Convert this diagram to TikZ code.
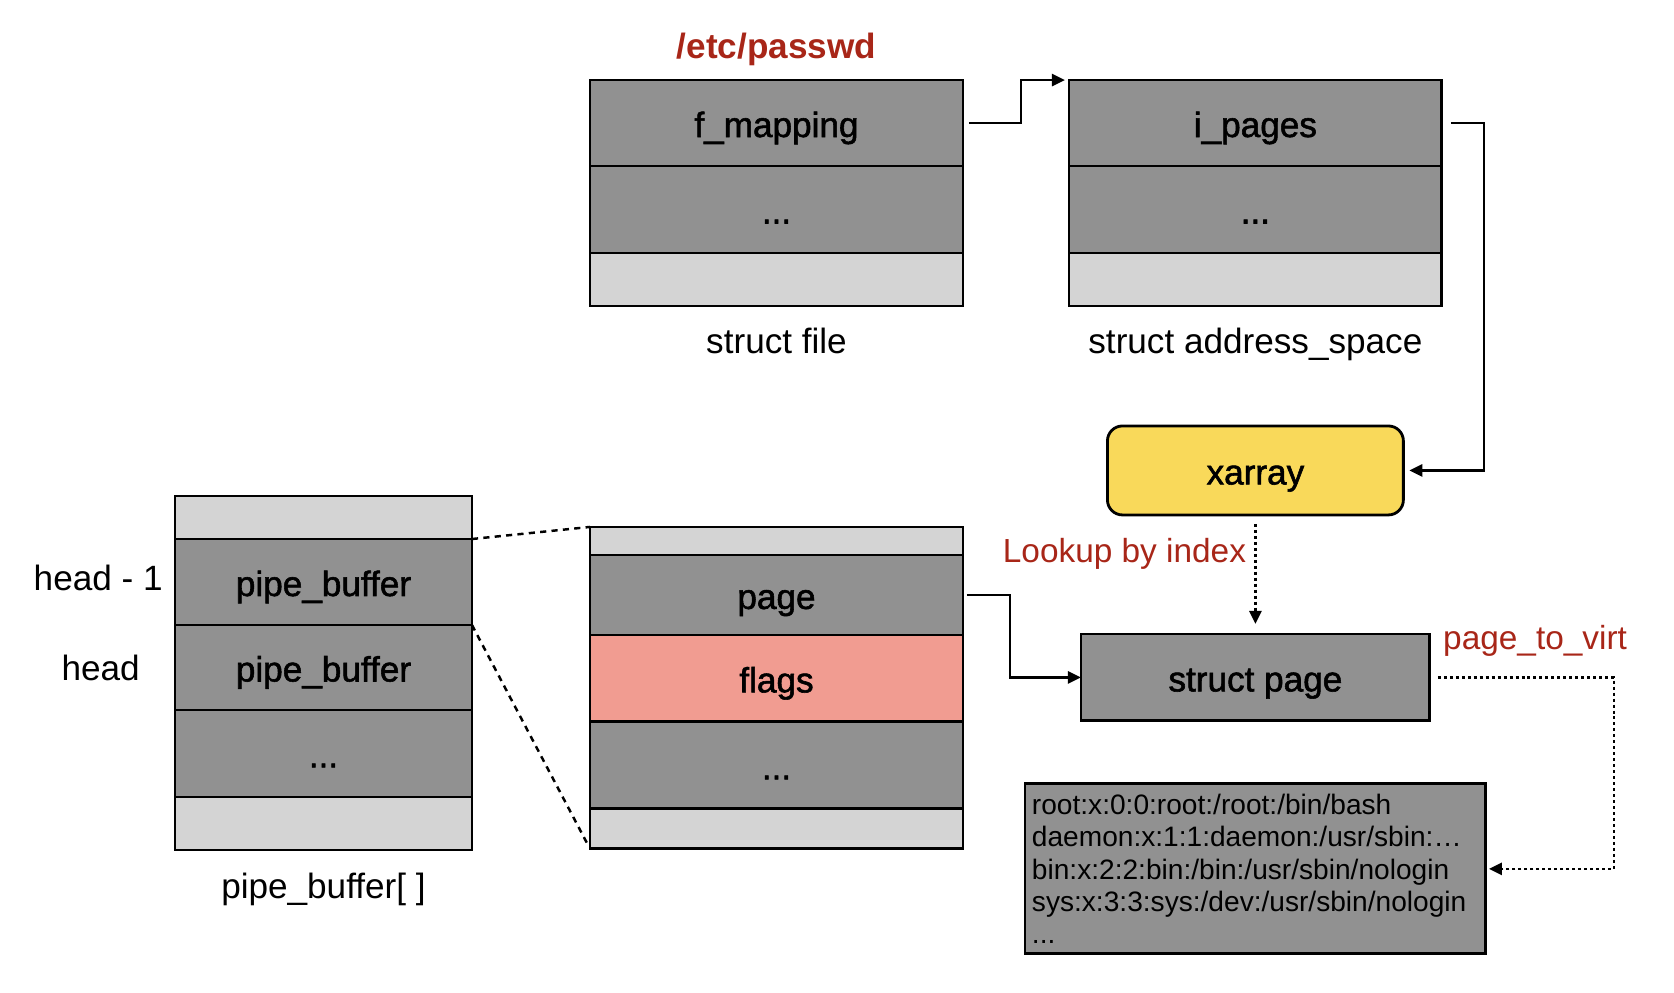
\documentclass[tikz,border=0pt]{standalone}
\usepackage{fontspec}
\setmainfont{Liberation Sans}
\newfontfamily\cellfont[BoldFont = {Liberation Sans}, BoldFeatures = {FakeBold = 1.6}]{Liberation Sans}
\usetikzlibrary{positioning, arrows.meta}

\definecolor{cellGray}{RGB}{145,145,145}
\definecolor{freeGray}{RGB}{212,212,212}
\definecolor{flagRed}{RGB}{241,156,145}
\definecolor{arrayYellow}{RGB}{249,217,90}
\definecolor{noteRed}{RGB}{168,38,24}

\tikzstyle{field} = [
    rectangle,
    draw,
    fill = cellGray,
    text centered,
    line width = 1.6pt,
    inner sep = 0pt,
    outer sep = 0pt,
    text height = 0.56cm,
    text depth = 0pt,
    minimum width = 7.46cm,
    font = \fontsize{20}{24}\selectfont\cellfont\bfseries
]
\tikzstyle{spare} = [
    field,
    fill = freeGray
]
\tikzstyle{flag} = [
    field,
    fill = flagRed
]
\tikzstyle{dump} = [
    rectangle,
    draw,
    fill = cellGray,
    line width = 1.6pt,
    inner sep = 0pt,
    outer sep = 0pt,
    align = left,
    font = \fontsize{16}{18.3}\selectfont
]
\tikzstyle{caption} = [
    inner sep = 0pt,
    font = \fontsize{20}{24}\selectfont
]
\tikzstyle{note} = [
    inner sep = 0pt,
    text = noteRed,
    font = \fontsize{19}{23}\selectfont
]
\tikzstyle{link} = [
    line width = 1.5pt,
    -{Triangle[length = 0.26cm, width = 0.24cm]}
]
\tikzstyle{lookup} = [
    link,
    dash pattern = on 1.7pt off 1.7pt
]
\tikzstyle{slice} = [
    line width = 1.4pt,
    dash pattern = on 3.5pt off 3pt
]

\begin{document}
\begin{tikzpicture}[x = 0.02cm, y = -0.02cm]

    \useasboundingbox (0, 0) rectangle (1674, 992);

    % struct file
    \node [field, minimum height = 1.72cm] (fileMapping) at (776.5, 123) {f\_mapping};
    \node [field, below = 0cm of fileMapping, minimum height = 1.74cm] (fileDots) {...};
    \node [spare, below = 0cm of fileDots, minimum height = 1.06cm] (fileFree) {};
    \node [note, font = \fontsize{20}{24}\selectfont\bfseries, above = 0.28cm of fileMapping] (filePath) {/etc/passwd};
    \node [caption, below = 0.44cm of fileFree] (fileName) {struct file};

    % struct address_space
    \node [field, right = 2.12cm of fileMapping, minimum height = 1.72cm] (addrPages) {i\_pages};
    \node [field, below = 0cm of addrPages, minimum height = 1.74cm] (addrDots) {...};
    \node [spare, below = 0cm of addrDots, minimum height = 1.06cm] (addrFree) {};
    \node [caption, below = 0.44cm of addrFree] (addrName) {struct address\_space};

    % xarray and struct page
    \node [field, fill = arrayYellow, rounded corners = 0.3cm, below = 2.4cm of addrFree,
           minimum width = 5.92cm, minimum height = 1.78cm] (xarray) {xarray};
    \node [note, below left = 0.46cm and 0.18cm of xarray.south] (lookupNote) {Lookup by index};
    \node [field, below = 2.38cm of xarray, minimum width = 6.98cm, minimum height = 1.74cm] (structPage) {struct page};
    \node [note, right = 0.26cm of structPage.north east, yshift = -0.14cm] (virtNote) {page\_to\_virt};

    % file data
    \node [dump, below = 1.26cm of structPage, minimum width = 9.22cm, minimum height = 3.4cm,
           text width = 8.94cm] (passwdData)
          {root:x:0:0:root:/root:/bin/bash\\
           daemon:x:1:1:daemon:/usr/sbin:…\\
           bin:x:2:2:bin:/bin:/usr/sbin/nologin\\
           sys:x:3:3:sys:/dev:/usr/sbin/nologin\\
           ...};

    % pipe_buffer
    \node [spare, below = 4.42cm of fileFree, minimum height = 0.54cm] (pgTop) {};
    \node [field, below = 0cm of pgTop, minimum height = 1.6cm] (pgPage) {page};
    \node [flag, below = 0cm of pgPage, minimum height = 1.74cm] (pgFlags) {flags};
    \node [field, below = 0cm of pgFlags, minimum height = 1.74cm] (pgDots) {...};
    \node [spare, below = 0cm of pgDots, minimum height = 0.8cm] (pgFree) {};

    % pipe_buffer[]
    \node [spare, minimum width = 5.94cm, minimum height = 0.86cm] (pipeTop) at (323.5, 517.5) {};
    \node [field, below = 0cm of pipeTop, minimum width = 5.94cm, minimum height = 1.72cm] (pipeHeadPrev) {pipe\_buffer};
    \node [field, below = 0cm of pipeHeadPrev, minimum width = 5.94cm, minimum height = 1.7cm] (pipeHead) {pipe\_buffer};
    \node [field, below = 0cm of pipeHead, minimum width = 5.94cm, minimum height = 1.74cm] (pipeDots) {...};
    \node [spare, below = 0cm of pipeDots, minimum width = 5.94cm, minimum height = 1.06cm] (pipeFree) {};
    \node [caption, left = 0.24cm of pipeHeadPrev, yshift = 0.08cm] (headPrevName) {head - 1};
    \node [caption, left = 0.7cm of pipeHead] (headName) {head};
    \node [caption, below = 0.46cm of pipeFree] (pipeName) {pipe\_buffer[ ]};

    % links
    \draw [link] ([xshift = 0.12cm]fileMapping.east) -- ++(1.04cm, 0) |- ([xshift = -0.08cm]addrPages.north west);
    \draw [link] ([xshift = 0.18cm]addrPages.east) -- ++(0.66cm, 0) |- ([xshift = 0.12cm]xarray.east);
    \draw [lookup] ([yshift = -0.18cm]xarray.south) -- ([yshift = 0.2cm]structPage.north);
    \draw [link] ([xshift = 0.08cm]pgPage.east) -- ++(0.86cm, 0) |- (structPage.west);
    \draw [lookup] ([xshift = 0.16cm]structPage.east) -- ++(3.52cm, 0) |- ([xshift = 0.06cm]passwdData.east);
    \draw [slice] (pipeHeadPrev.north east) -- (pgTop.north west);
    \draw [slice, shorten > = 0.12cm] (pipeHead.north east) -- (pgFree.south west);

\end{tikzpicture}
\end{document}
